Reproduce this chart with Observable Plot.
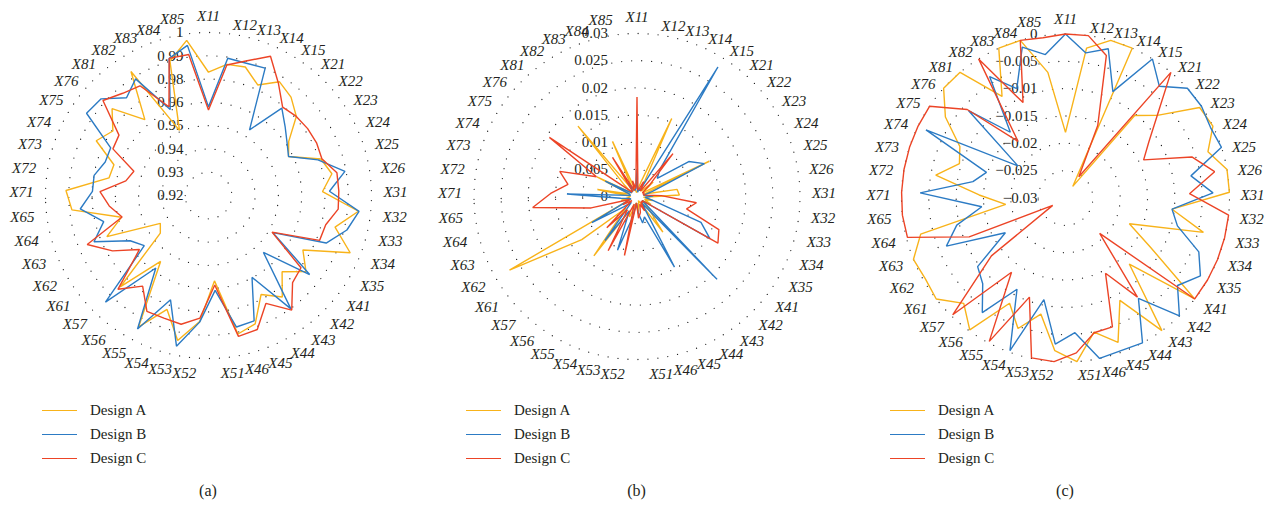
<!DOCTYPE html>
<html><head><meta charset="utf-8">
<script src="https://cdn.jsdelivr.net/npm/d3@7"></script>
<script src="https://cdn.jsdelivr.net/npm/@observablehq/plot@0.6"></script>
<style>
body{margin:0;background:#fff;width:1272px;height:508px;overflow:hidden;position:relative;font-family:"Liberation Serif","DejaVu Serif",serif;color:#231f20}
.col{position:absolute;top:0;width:424px;height:508px}
.col svg{position:absolute;left:0;top:0;overflow:visible}
.legend{position:absolute;left:42px;top:398px}
.row{display:flex;align-items:center;height:24px;font-size:15px;white-space:nowrap}
.swatch{width:35px;height:0;border-top:1.6px solid;margin-right:13px}
.cap{position:absolute;top:481px;font-size:16px;transform:translateX(-50%);line-height:20px}
</style></head><body>
<script>
const categories = ["X11","X12","X13","X14","X15","X21","X22","X23","X24","X25","X26","X31","X32","X33","X34","X35","X41","X42","X43","X44","X45","X46","X51","X52","X53","X54","X55","X56","X57","X61","X62","X63","X64","X65","X71","X72","X73","X74","X75","X76","X81","X82","X83","X84","X85"];
const seriesNames = ["Design A","Design B","Design C"];
const seriesColors = ["#F8B31A","#2C7BC4","#EC4426"];

// chart (a)
const aTickLabels = ["0.92","0.93","0.94","0.95","0.96","0.98","0.99","1"];
const aDesignA = [0.9805,0.985,0.9856,0.9794,0.9858,0.983,0.978,0.9675,0.9637,0.978,0.9815,0.976,0.994,0.984,0.995,0.9735,0.9807,0.972,0.9816,0.975,0.987,0.9895,0.962,0.982,0.9928,0.9795,0.993,0.960,0.9824,0.950,0.9473,0.9738,0.964,0.9874,0.990,0.9696,0.9688,0.9813,0.9766,0.9837,0.9686,0.9918,0.955,0.9887,0.9969];
const aDesignB = [0.9635,0.988,0.9875,0.9884,0.958,0.976,0.9706,0.9665,0.9637,0.9765,0.988,0.9794,0.9943,0.990,0.9823,0.9565,0.983,0.9588,0.9888,0.9655,0.9855,0.986,0.9667,0.9823,0.9956,0.9745,0.9942,0.964,0.9928,0.960,0.9644,0.9806,0.973,0.9833,0.977,0.977,0.9733,0.9734,0.9922,0.9909,0.9826,0.9875,0.9662,0.990,0.9944];
const aDesignC = [0.962,0.9847,0.9888,0.9948,0.9848,0.9766,0.978,0.9787,0.979,0.9785,0.984,0.984,0.984,0.9793,0.9788,0.956,0.9776,0.9794,0.9895,0.980,0.990,0.9907,0.964,0.9803,0.9846,0.984,0.9844,0.975,0.984,0.963,0.9744,0.9842,0.9637,0.969,0.9733,0.9612,0.9585,0.9722,0.973,0.9897,0.9855,0.9835,0.9677,0.990,0.9899];

// chart (b)
const bTickLabels = ["0","0.005","0.01","0.015","0.02","0.025","0.03"];
const bDesignA = [0.0008,0.0015,0.003,0.0157,0.0012,0.0015,0.004,0.0012,0.0148,0.0015,0.0075,0.0078,0.0012,0.003,0.0015,0.003,0.0012,0.003,0.0081,0.0015,0.0008,0.0015,0.003,0.0012,0.0015,0.004,0.003,0.0135,0.003,0.0129,0.0271,0.0012,0.003,0.0015,0.0012,0.0074,0.0015,0.0082,0.0012,0.003,0.0169,0.0012,0.0111,0.0015,0.0008];
const bDesignB = [0.005,0.0008,0.0015,0.0012,0.0281,0.0066,0.005,0.0115,0.0138,0.003,0.0012,0.003,0.0015,0.003,0.0127,0.0155,0.0012,0.0212,0.0015,0.0147,0.004,0.005,0.003,0.0012,0.004,0.0105,0.003,0.010,0.0015,0.003,0.0096,0.0012,0.0015,0.003,0.0129,0.0012,0.0015,0.0065,0.0012,0.0015,0.0012,0.003,0.0015,0.0012,0.0015];
const bDesignC = [0.0183,0.0012,0.0015,0.003,0.0012,0.0103,0.003,0.0012,0.0015,0.0012,0.0015,0.0045,0.011,0.0094,0.01625,0.0172,0.0012,0.0015,0.0012,0.003,0.0015,0.003,0.004,0.0012,0.0111,0.0015,0.0113,0.003,0.008,0.0012,0.003,0.0015,0.0087,0.0193,0.0159,0.0129,0.01495,0.0083,0.01945,0.0012,0.0015,0.0085,0.0012,0.003,0.0015];

// chart (c)
const cTickLabels = ["\u22120.03","\u22120.025","\u22120.02","\u22120.015","\u22120.01","\u22120.005","0"];
const cDesignA = [-0.018,-0.0023,0,0,-0.0275,-0.0103,-0.0074,-0.0004,0,-0.0026,0,0,-0.0104,-0.004,-0.0174,-0.0121,0,-0.0132,0,-0.0088,-0.0019,-0.0049,0,-0.002,-0.0083,-0.0046,-0.0082,-0.0002,-0.0032,0,-0.0004,0,-0.0027,-0.019,-0.0142,-0.0059,-0.0096,-0.0085,-0.0035,0,0,-0.0081,0,0,-0.0068];
const cDesignB = [0,-0.0032,-0.0016,-0.0087,0,-0.0033,0,0,-0.0005,0,-0.0067,-0.003,-0.0104,-0.0089,-0.0037,-0.0015,-0.004,0,-0.0073,0,-0.0003,0,-0.0053,-0.0032,-0.011,-0.0003,-0.0111,-0.0041,-0.0082,-0.0096,-0.0173,-0.0065,-0.0095,-0.0146,-0.0034,-0.0128,-0.0148,-0.0016,-0.0195,-0.0061,-0.0143,-0.0038,-0.0081,-0.0013,-0.0035];
const cDesignC = [0,0,-0.0029,-0.0155,-0.0254,0,-0.0074,-0.0116,-0.0141,-0.0057,-0.0023,-0.0073,0,0,0,0,0,-0.021,-0.0076,-0.0144,-0.0049,-0.0048,-0.0016,0,-0.0001,-0.0107,-0.0003,-0.0132,-0.0003,-0.0128,-0.0273,-0.011,-0.0002,0,0,0,0,0,0,-0.0058,-0.0165,0,-0.0109,0,-0.0004];

const charts = [
  {id:"a", left:0,   cx:208,   cy:195,   R:163, v0:0.92,  v1:1,    nT:8, tickLabels:aTickLabels, tickDx:-25, series:[aDesignA,aDesignB,aDesignC]},
  {id:"b", left:424, cx:212.5, cy:196,   R:163, v0:0,     v1:0.03, nT:7, tickLabels:bTickLabels, tickDx:-29, series:[bDesignA,bDesignB,bDesignC]},
  {id:"c", left:848, cx:217,   cy:197.5, R:164, v0:-0.03, v1:0,    nT:7, tickLabels:cTickLabels, tickDx:-28, series:[cDesignA,cDesignB,cDesignC]}
];

const W = 424, H = 392;
const n = categories.length;
const lon = i => 180 - i * 360 / n;
const font = '"Liberation Serif","DejaVu Serif",serif';

function radar(cfg) {
  const rho = d3.scaleLinear().domain([cfg.v0, cfg.v1]).range([0, 1]);
  const lat = v => 90 - Math.max(0, rho(v));
  const tickValues = d3.range(cfg.nT).map(k => cfg.v0 + k * (cfg.v1 - cfg.v0) / (cfg.nT - 1));
  const rows = [];
  cfg.series.forEach((vals, s) => vals.forEach((v, i) => rows.push({series: seriesNames[s], i, v})));
  const cats = categories.map((c, i) => ({c, i, ang: i * 360 / n}));
  const labelLat = 90 - 175 / cfg.R;
  const groups = [
    {f: d => d.ang > 0 && d.ang < 180, anchor: "start", dy: 3},
    {f: d => d.ang > 180 && d.ang < 350, anchor: "end", dy: 3},
    {f: d => d.ang === 0, anchor: "middle", dy: -4},
    {f: d => d.ang >= 350, anchor: "end", dy: -3}
  ];
  return Plot.plot({
    width: W, height: H,
    marginLeft: cfg.cx - cfg.R, marginRight: W - cfg.cx - cfg.R,
    marginTop: cfg.cy - cfg.R, marginBottom: H - cfg.cy - cfg.R,
    projection: {
      type: "azimuthal-equidistant",
      rotate: [0, -90],
      clip: false,
      domain: d3.geoCircle().center([0, 90]).radius(1).precision(1)()
    },
    color: {domain: seriesNames, range: seriesColors},
    style: {fontFamily: font, fontSize: "15px", color: "#231f20", background: "transparent"},
    marks: [
      Plot.geo(tickValues.slice(1), {
        geometry: v => d3.geoCircle().center([0, 90]).radius(rho(v)).precision(1)(),
        fill: "none", stroke: "#222", strokeWidth: 1.3, strokeDasharray: "0 10", strokeLinecap: "round"
      }),
      Plot.text(tickValues, {
        x: 180, y: v => lat(v), text: (v, i) => cfg.tickLabels[i],
        textAnchor: "end", dx: cfg.tickDx, fill: "#231f20"
      }),
      Plot.line(rows, {
        x: d => lon(d.i), y: d => lat(d.v), z: "series", stroke: "series",
        curve: "linear-closed", strokeWidth: 1.4, strokeLinejoin: "miter"
      }),
      ...groups.map(g => Plot.text(cats.filter(g.f), {
        x: d => lon(d.i), y: labelLat, text: d => d.c,
        textAnchor: g.anchor, dy: g.dy, fontStyle: "italic", fill: "#231f20"
      }))
    ]
  });
}

for (const cfg of charts) {
  const col = document.createElement("div");
  col.className = "col";
  col.style.left = cfg.left + "px";
  col.appendChild(radar(cfg));
  const leg = document.createElement("div");
  leg.className = "legend";
  seriesNames.forEach((name, s) => {
    const row = document.createElement("div");
    row.className = "row";
    const sw = document.createElement("div");
    sw.className = "swatch";
    sw.style.borderTopColor = seriesColors[s];
    const t = document.createElement("span");
    t.textContent = name;
    row.appendChild(sw); row.appendChild(t);
    leg.appendChild(row);
  });
  col.appendChild(leg);
  const cap = document.createElement("div");
  cap.className = "cap";
  cap.style.left = cfg.cx + "px";
  cap.textContent = "(" + cfg.id + ")";
  col.appendChild(cap);
  document.body.appendChild(col);
}
</script>
</body></html>
